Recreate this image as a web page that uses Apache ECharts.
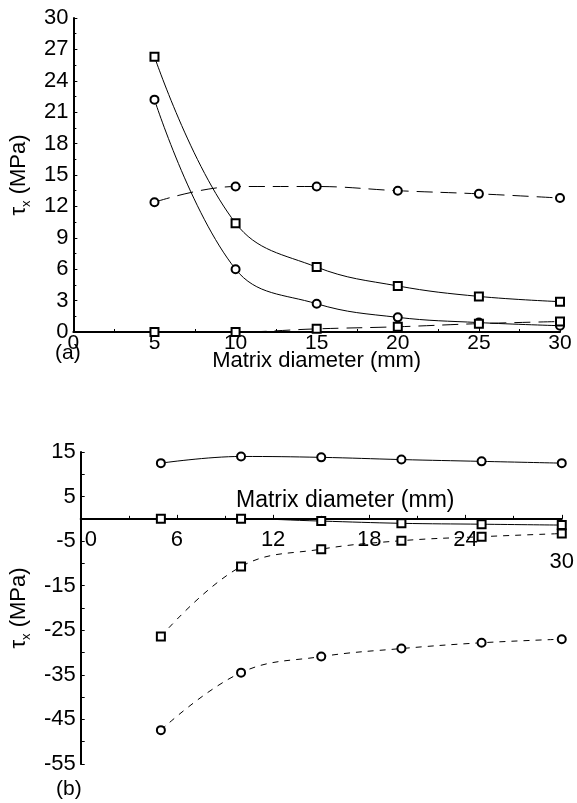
<!DOCTYPE html>
<html>
<head>
<meta charset="utf-8">
<script src="https://cdn.jsdelivr.net/npm/echarts@6/dist/echarts.min.js"></script>
<style>
html,body{margin:0;padding:0;background:#fff;}
#chart{width:577px;height:803px;}
</style>
</head>
<body>
<div id="chart"></div>
<script>
// ---- data ----
const diameters = [5, 10, 15, 20, 25, 30];

// panel (a)
const aSolidSquares  = [26.3, 10.4, 6.2, 4.4, 3.4, 2.9];
const aSolidCircles  = [22.2, 6.0, 2.7, 1.4, 0.9, 0.6];
const aDashCircles   = [12.4, 13.9, 13.9, 13.5, 13.2, 12.8];
const aDashSquares   = [0.0, 0.0, 0.3, 0.5, 0.8, 1.0];

// panel (b)
const bSolidCircles  = [12.5, 14.0, 13.8, 13.3, 12.9, 12.5];
const bSolidSquares  = [0.0, 0.0, -0.5, -1.0, -1.2, -1.4];
const bDashSquares   = [-26.4, -10.7, -6.8, -4.9, -4.0, -3.3];
const bDashCircles   = [-47.4, -34.5, -30.9, -29.1, -27.8, -27.0];

const bYTickLabels = [15, 5, -5, -15, -25, -35, -45, -55];

const FONT = 'Liberation Sans';
const pair = arr => diameters.map((d, i) => [d, arr[i]]);

function series(name, xi, arr, symbol, dash) {
  return {
    name: name, type: 'line', xAxisIndex: xi, yAxisIndex: xi,
    data: pair(arr), smooth: 0.4,
    symbol: symbol, symbolSize: 8,
    lineStyle: { color: '#000', width: 1, type: dash || 'solid' },
    itemStyle: { color: '#000', borderColor: '#000', borderWidth: 1.2 },
    z: 3
  };
}

const nameRich = {
  t: { fontFamily: FONT, fontSize: 22, color: '#000', verticalAlign: 'bottom' },
  s: { fontFamily: FONT, fontSize: 13, color: '#000', verticalAlign: 'bottom', padding: [0, 0, -3, 0] },
  m: { fontFamily: FONT, fontSize: 22, color: '#000', verticalAlign: 'bottom' }
};

const axisCommon = {
  axisLine: { lineStyle: { color: '#000', width: 2 } },
  axisTick: { inside: true, length: 4, lineStyle: { color: '#000', width: 1 } },
  minorTick: { show: true, splitNumber: 2, length: 3, lineStyle: { color: '#000', width: 1 } },
  splitLine: { show: false },
  axisLabel: { color: '#000', fontFamily: FONT, fontSize: 22 }
};

// zero line of panel (b) y-range: offset of x-axis from bottom of grid
const bGridTop = 452, bGridHeight = 312, bYMin = -55, bYMax = 15;
const bZeroOffset = -bGridHeight * (0 - bYMin) / (bYMax - bYMin);

const option = {
  backgroundColor: '#fff',
  animation: false,
  title: [
    { text: '(a)', left: 55, top: 343, padding: 0, textStyle: { fontFamily: FONT, fontSize: 21, fontWeight: 'normal', color: '#000' } },
    { text: '(b)', left: 56, top: 779, padding: 0, textStyle: { fontFamily: FONT, fontSize: 21, fontWeight: 'normal', color: '#000' } }
  ],
  grid: [
    { left: 63, top: 18, width: 497, height: 314 },
    { left: 68, top: bGridTop, width: 497, height: bGridHeight }
  ],
  xAxis: [
    Object.assign({}, axisCommon, {
      type: 'value', gridIndex: 0, min: 0, max: 30, interval: 5,
      name: 'Matrix diameter (mm)', nameLocation: 'middle', nameGap: 18,
      nameMoveOverlap: false,
      nameTextStyle: { fontFamily: FONT, fontSize: 22, color: '#000' },
      axisLabel: Object.assign({}, axisCommon.axisLabel, { margin: 1, fontSize: 21 })
    }),
    Object.assign({}, axisCommon, {
      type: 'value', gridIndex: 1, min: 0, max: 30, interval: 6,
      offset: bZeroOffset,
      axisLine: { onZero: false, lineStyle: { color: '#000', width: 2 } },
      name: 'Matrix diameter (mm)', nameLocation: 'middle', nameGap: -30,
      nameMoveOverlap: false,
      nameTextStyle: { fontFamily: FONT, fontSize: 23, color: '#000', padding: [0, 0, 0, 48] },
      axisLabel: Object.assign({}, axisCommon.axisLabel, {
        margin: 10,
        alignMinLabel: 'left',
        formatter: v => v === 0 ? '{z|0}' : (v === 30 ? '\n30' : String(v)),
        rich: { z: { fontFamily: FONT, fontSize: 22, color: '#000', padding: [0, 0, 0, 4] } }
      })
    })
  ],
  yAxis: [
    Object.assign({}, axisCommon, {
      type: 'value', gridIndex: 0, min: 0, max: 30, interval: 3,
      name: '{t|τ}{s|x}{m| (MPa)}', nameLocation: 'middle', nameGap: 34,
      nameTextStyle: { rich: nameRich },
      axisLabel: Object.assign({}, axisCommon.axisLabel, { margin: 5 })
    }),
    Object.assign({}, axisCommon, {
      type: 'value', gridIndex: 1, min: bYMin, max: bYMax, interval: 5,
      minorTick: { show: false },
      name: '{t|τ}{s|x}{m| (MPa)}', nameLocation: 'middle', nameGap: 40,
      nameTextStyle: { rich: nameRich },
      axisLabel: Object.assign({}, axisCommon.axisLabel, {
        margin: 5,
        formatter: v => bYTickLabels.indexOf(v) >= 0 ? String(v) : ''
      })
    })
  ],
  series: [
    series('a-solid-squares', 0, aSolidSquares, 'emptyRect'),
    series('a-solid-circles', 0, aSolidCircles, 'emptyCircle'),
    series('a-dash-circles', 0, aDashCircles, 'emptyCircle', [16, 8]),
    series('a-dash-squares', 0, aDashSquares, 'emptyRect', [16, 8]),
    series('b-solid-circles', 1, bSolidCircles, 'emptyCircle'),
    series('b-solid-squares', 1, bSolidSquares, 'emptyRect'),
    series('b-dash-squares', 1, bDashSquares, 'emptyRect', [6, 6]),
    series('b-dash-circles', 1, bDashCircles, 'emptyCircle', [6, 6])
  ]
};

const chart = echarts.init(document.getElementById('chart'), null, { renderer: 'canvas' });
chart.setOption(option);
</script>
</body>
</html>
